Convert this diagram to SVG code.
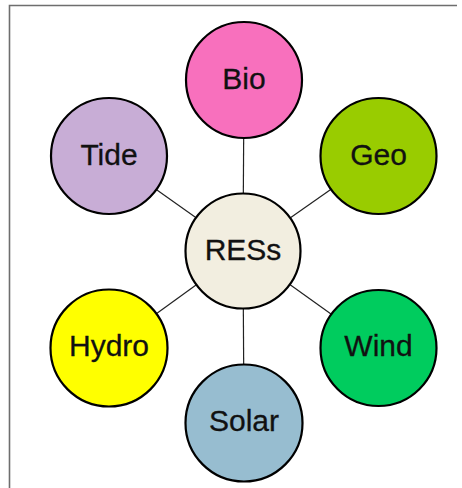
<svg xmlns="http://www.w3.org/2000/svg" width="462" height="488" viewBox="0 0 462 488">
<style>
.n circle{stroke:#000;stroke-width:2.2}
.n text{font-family:"Liberation Sans",Arial,sans-serif;font-size:30px;fill:#111;stroke:#111;stroke-width:0.3;text-anchor:middle;dominant-baseline:central}
.c line{stroke:#222;stroke-width:1.2}
</style>
<rect width="462" height="488" fill="#fff"/>
<path d="M9.5 488V5.5H457" fill="none" stroke="#6e6e6e" stroke-width="1.6"/>
<g class="c" id="connectors">
<line x1="243" y1="251" x2="244" y2="80"/>
<line x1="243" y1="251" x2="244" y2="423"/>
<line x1="243" y1="251" x2="109" y2="156"/>
<line x1="243" y1="251" x2="378.5" y2="156"/>
<line x1="243" y1="251" x2="109" y2="348"/>
<line x1="243" y1="251" x2="378.5" y2="348"/>
</g>
<g class="n" id="bio"><circle cx="244" cy="80" r="58" fill="#F870BD"/><text x="244" y="78">Bio</text></g>
<g class="n" id="tide"><circle cx="109" cy="156" r="58" fill="#C8ADD6"/><text x="109" y="154">Tide</text></g>
<g class="n" id="geo"><circle cx="378.5" cy="156" r="58" fill="#99CC00"/><text x="378.5" y="154">Geo</text></g>
<g class="n" id="ress"><circle cx="243" cy="251" r="57.5" fill="#F2EEE0"/><text x="243" y="249">RESs</text></g>
<g class="n" id="hydro"><circle cx="109" cy="348" r="58.5" fill="#FFFF00"/><text x="109" y="345">Hydro</text></g>
<g class="n" id="wind"><circle cx="378.5" cy="348" r="58" fill="#00CC5E"/><text x="378.5" y="345">Wind</text></g>
<g class="n" id="solar"><circle cx="244" cy="423" r="58.5" fill="#97BDD0"/><text x="244" y="420">Solar</text></g>
</svg>
